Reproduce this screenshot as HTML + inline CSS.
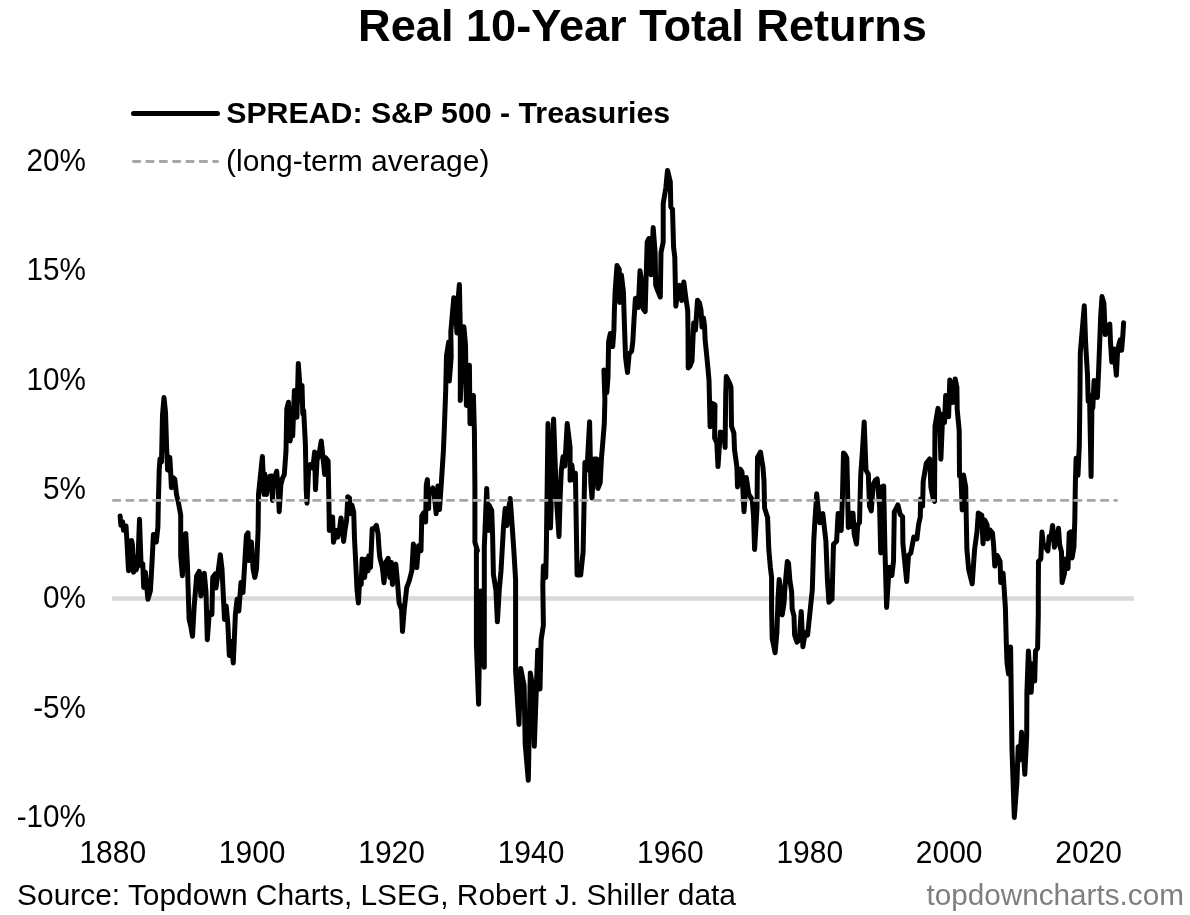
<!DOCTYPE html>
<html><head><meta charset="utf-8"><style>
html,body{margin:0;padding:0;background:#fff;}
svg{display:block;filter:grayscale(1);}
text{font-family:"Liberation Sans",Arial,sans-serif;fill:#000;font-size:30px;}
</style></head><body>
<svg width="1190" height="915" viewBox="0 0 1190 915">
<rect width="1190" height="915" fill="#fff"/>
<text x="642.5" y="41" style="font-size:45px;font-weight:bold" text-anchor="middle" textLength="568.9" lengthAdjust="spacingAndGlyphs">Real 10-Year Total Returns</text>
<line x1="133.5" y1="113.5" x2="217.5" y2="113.5" stroke="#000" stroke-width="5" stroke-linecap="round"/>
<text x="226.2" y="122.8" style="font-weight:bold" textLength="443.9" lengthAdjust="spacingAndGlyphs">SPREAD: S&amp;P 500 - Treasuries</text>
<line x1="133.4" y1="161.5" x2="217.5" y2="161.5" stroke="#a6a6a6" stroke-width="2.8" stroke-linecap="round" stroke-dasharray="6.5 6.85"/>
<text x="226" y="171" font-size="30">(long-term average)</text>
<text x="86" y="171.1" text-anchor="end" transform="matrix(0.99 0 0 1.07 0.860 -11.977)">20%</text><text x="86" y="280.4" text-anchor="end" transform="matrix(0.99 0 0 1.07 0.860 -19.628)">15%</text><text x="86" y="389.7" text-anchor="end" transform="matrix(0.99 0 0 1.07 0.860 -27.279)">10%</text><text x="86" y="499.0" text-anchor="end" transform="matrix(0.99 0 0 1.07 0.860 -34.930)">5%</text><text x="86" y="608.3" text-anchor="end" transform="matrix(0.99 0 0 1.07 0.860 -42.581)">0%</text><text x="86" y="717.6" text-anchor="end" transform="matrix(0.99 0 0 1.07 0.860 -50.232)">-5%</text><text x="86" y="826.9" text-anchor="end" transform="matrix(0.99 0 0 1.07 0.860 -57.883)">-10%</text>
<text x="112.8" y="863" text-anchor="middle" transform="matrix(1 0 0 1.04 0 -34.520)">1880</text><text x="252.2" y="863" text-anchor="middle" transform="matrix(1 0 0 1.04 0 -34.520)">1900</text><text x="391.6" y="863" text-anchor="middle" transform="matrix(1 0 0 1.04 0 -34.520)">1920</text><text x="531.0" y="863" text-anchor="middle" transform="matrix(1 0 0 1.04 0 -34.520)">1940</text><text x="670.4" y="863" text-anchor="middle" transform="matrix(1 0 0 1.04 0 -34.520)">1960</text><text x="809.8" y="863" text-anchor="middle" transform="matrix(1 0 0 1.04 0 -34.520)">1980</text><text x="949.2" y="863" text-anchor="middle" transform="matrix(1 0 0 1.04 0 -34.520)">2000</text><text x="1088.6" y="863" text-anchor="middle" transform="matrix(1 0 0 1.04 0 -34.520)">2020</text>
<text x="17.1" y="904.7" textLength="718.9" lengthAdjust="spacingAndGlyphs">Source: Topdown Charts, LSEG, Robert J. Shiller data</text>
<text x="926.4" y="904.7" textLength="257.5" lengthAdjust="spacingAndGlyphs" style="fill:#7f7f7f">topdowncharts.com</text>
<line x1="112" y1="598.5" x2="1134" y2="598.5" stroke="#d9d9d9" stroke-width="4.5"/>
<path d="M120.1,516.0 L120.9,525.2 L122.6,521.8 L123.5,530.3 L126.0,526.0 L126.8,538.7 L128.5,570.7 L130.0,568.0 L131.5,540.4 L132.5,545.0 L133.6,572.3 L135.3,557.2 L136.1,570.0 L137.8,565.0 L139.5,519.3 L141.1,565.6 L142.8,564.0 L143.7,587.5 L145.4,572.3 L147.9,599.3 L150.4,590.9 L152.0,563.0 L153.4,534.5 L154.6,534.5 L156.3,542.0 L157.9,527.0 L158.3,505.0 L159.2,470.0 L160.0,459.0 L161.5,462.0 L162.5,415.0 L164.0,397.5 L165.5,412.0 L166.7,450.0 L167.6,470.0 L169.8,457.4 L170.6,470.9 L171.4,487.7 L173.1,477.6 L174.8,479.3 L176.5,494.5 L178.5,503.0 L180.7,515.1 L180.7,555.5 L182.4,575.7 L184.1,535.3 L185.8,533.6 L187.4,563.9 L189.1,619.5 L190.8,626.0 L192.5,636.3 L194.2,606.0 L196.7,575.7 L199.2,571.5 L200.9,595.9 L202.6,584.0 L204.3,573.2 L206.0,592.0 L207.3,639.7 L209.3,612.7 L211.9,614.4 L212.7,577.4 L215.2,574.0 L216.0,588.0 L217.7,575.0 L220.3,554.7 L222.0,569.0 L224.5,619.5 L226.2,606.0 L227.8,622.8 L229.3,655.5 L231.2,641.4 L233.3,663.0 L235.4,614.4 L237.1,599.3 L238.8,611.0 L241.0,582.4 L243.0,592.5 L244.7,563.9 L246.4,535.3 L248.0,532.8 L248.9,560.6 L251.4,542.0 L253.1,569.0 L254.8,577.4 L256.5,569.0 L258.1,530.3 L258.5,494.5 L262.4,456.6 L264.0,494.5 L264.9,474.3 L266.6,494.5 L269.1,477.6 L270.0,476.3 L271.6,476.0 L272.5,500.4 L273.4,481.3 L274.1,479.3 L276.7,471.2 L278.3,490.0 L279.2,511.7 L280.9,484.4 L282.6,478.0 L284.3,474.6 L286.0,451.0 L286.8,408.9 L288.5,402.2 L290.2,440.9 L291.9,417.3 L292.7,435.9 L294.4,390.4 L295.5,395.0 L296.9,417.3 L298.3,363.5 L299.5,380.0 L300.3,400.5 L302.0,385.4 L302.8,414.0 L303.7,410.6 L305.4,444.3 L306.2,489.7 L307.0,503.2 L308.7,467.8 L310.4,464.5 L312.9,468.0 L314.6,451.9 L315.5,489.7 L317.1,459.4 L318.8,456.1 L321.3,440.9 L323.0,458.0 L324.7,474.6 L325.6,457.7 L328.1,461.1 L328.9,501.5 L329.3,530.5 L331.0,528.0 L332.6,517.0 L333.5,542.3 L336.0,530.5 L337.7,537.2 L339.4,530.0 L341.0,517.9 L342.7,530.0 L343.6,541.4 L345.0,530.0 L346.6,520.4 L347.8,496.8 L349.5,498.0 L350.3,513.7 L352.0,505.3 L353.7,512.0 L354.5,538.9 L355.4,555.8 L357.0,589.4 L358.4,602.9 L359.6,581.0 L361.2,584.4 L362.1,559.1 L364.6,577.6 L366.3,559.1 L368.0,570.9 L368.8,555.8 L370.5,567.5 L372.2,528.8 L373.9,528.8 L376.4,525.5 L378.1,534.0 L378.9,547.3 L379.8,557.4 L382.3,567.0 L384.0,582.7 L385.7,562.5 L388.2,558.3 L389.9,577.6 L391.5,562.5 L392.4,584.4 L394.1,565.9 L395.8,564.2 L397.4,581.0 L399.1,602.9 L401.6,609.6 L402.5,631.5 L404.2,609.6 L406.7,587.7 L409.2,581.0 L411.8,570.9 L413.4,544.0 L415.1,567.0 L416.8,567.5 L418.5,545.7 L421.0,550.7 L421.8,516.0 L423.5,513.0 L425.6,522.0 L426.3,485.0 L427.4,479.6 L428.6,508.6 L429.1,489.7 L430.5,490.0 L432.7,488.0 L434.5,497.0 L436.2,513.7 L437.9,486.0 L439.5,509.5 L441.2,485.0 L443.4,451.0 L444.2,432.0 L445.7,390.4 L446.5,356.0 L448.7,342.0 L449.3,381.0 L451.2,357.0 L450.8,332.0 L453.8,297.7 L455.5,299.0 L456.9,333.0 L458.0,300.0 L459.4,284.5 L460.3,330.0 L460.3,400.5 L462.0,360.0 L463.9,326.7 L465.5,345.0 L466.4,405.5 L468.0,380.0 L469.4,365.2 L470.0,423.7 L473.4,395.4 L474.4,432.0 L474.9,486.7 L474.9,542.3 L477.4,550.7 L476.4,549.0 L476.4,644.0 L478.6,704.2 L480.3,591.0 L482.5,640.0 L484.3,667.3 L484.3,547.3 L486.7,488.4 L488.4,530.5 L489.2,505.3 L491.7,510.3 L492.6,535.6 L493.4,574.3 L495.9,590.0 L497.4,621.8 L499.3,589.4 L501.0,570.9 L503.5,527.1 L505.2,508.6 L506.9,525.5 L508.5,510.0 L510.2,498.5 L511.9,522.1 L513.9,551.4 L515.6,579.8 L515.6,670.7 L519.0,724.4 L520.7,668.4 L524.1,685.5 L525.2,744.0 L528.3,780.2 L530.3,673.0 L533.2,690.0 L534.3,746.3 L537.7,650.2 L540.0,688.9 L541.1,640.0 L543.4,625.2 L542.8,585.5 L543.4,566.1 L545.7,577.5 L546.3,551.4 L548.0,423.6 L550.5,528.0 L553.6,418.9 L556.5,500.0 L559.0,536.5 L560.2,495.6 L561.3,470.8 L563.0,456.7 L564.8,466.1 L567.2,423.6 L570.1,447.2 L570.1,480.3 L571.9,464.9 L573.5,480.0 L575.4,473.2 L577.1,575.0 L580.7,575.0 L583.1,552.0 L584.9,462.6 L587.0,470.0 L589.6,421.8 L590.8,482.6 L592.0,498.0 L594.3,459.0 L596.7,459.0 L597.9,488.5 L600.2,482.6 L601.4,459.0 L602.6,444.9 L604.3,423.6 L604.9,400.0 L603.9,370.1 L605.3,372.0 L606.8,392.6 L608.0,377.2 L608.6,341.8 L610.3,333.5 L612.7,346.5 L613.9,330.0 L614.4,310.0 L615.1,291.8 L617.0,265.6 L619.2,269.2 L619.7,302.4 L621.4,275.0 L623.4,291.5 L624.6,330.0 L625.6,357.8 L627.5,372.5 L629.2,353.6 L631.6,351.3 L632.8,341.8 L634.0,320.0 L635.4,298.4 L637.0,298.0 L638.3,307.5 L640.0,270.8 L642.0,283.9 L643.3,308.9 L645.2,311.5 L645.9,285.2 L647.2,242.0 L649.0,238.5 L651.1,274.8 L653.2,227.6 L655.1,252.5 L655.7,285.2 L657.7,290.5 L660.3,297.0 L661.0,252.5 L663.2,242.0 L663.2,203.7 L665.9,187.3 L667.5,170.4 L670.3,181.9 L670.8,207.0 L672.5,209.2 L673.6,247.4 L674.8,257.3 L675.8,306.2 L677.4,294.4 L679.7,285.3 L681.7,300.4 L683.8,282.0 L685.9,298.4 L687.7,310.5 L688.0,330.0 L688.2,368.0 L690.0,366.0 L692.0,361.0 L693.7,323.0 L695.5,330.0 L697.5,300.3 L699.5,303.0 L701.0,310.0 L702.0,327.0 L703.5,318.0 L704.6,326.5 L705.1,339.6 L707.3,361.5 L709.0,380.0 L709.5,400.8 L710.1,426.8 L711.9,403.2 L714.2,404.4 L715.0,404.9 L714.6,437.9 L716.8,442.6 L718.0,466.5 L720.3,432.0 L723.9,433.2 L725.1,447.4 L725.7,395.4 L726.3,376.5 L729.8,383.6 L731.0,387.2 L731.5,426.1 L733.9,433.2 L734.5,449.7 L736.9,466.8 L737.5,486.9 L740.4,469.2 L742.0,472.0 L744.0,511.7 L746.3,477.4 L748.7,494.0 L752.2,499.9 L753.5,515.0 L754.6,549.5 L757.0,508.1 L757.5,457.4 L760.5,452.1 L762.9,466.8 L764.0,481.0 L764.6,508.1 L767.6,517.6 L768.8,549.5 L770.4,567.7 L771.6,577.2 L771.6,609.0 L772.2,638.5 L775.1,652.7 L776.9,632.6 L778.1,597.2 L779.2,579.5 L780.5,590.0 L782.2,614.9 L784.0,603.1 L785.1,585.4 L787.3,561.5 L788.5,563.0 L789.9,580.7 L791.6,591.3 L792.2,609.0 L794.0,616.1 L794.6,635.0 L797.0,642.1 L799.3,639.7 L801.2,611.4 L802.9,646.8 L805.2,632.6 L807.6,635.0 L810.0,612.0 L812.3,590.0 L813.2,560.0 L813.8,540.0 L814.6,526.0 L816.7,493.8 L818.8,515.0 L819.8,522.8 L822.8,513.6 L825.9,541.2 L827.4,579.4 L828.9,602.3 L832.0,599.3 L833.5,544.2 L836.6,541.2 L838.1,513.6 L841.2,530.5 L842.5,495.0 L843.5,453.0 L845.3,455.0 L846.8,458.0 L847.4,481.3 L848.3,527.4 L849.5,527.0 L851.2,513.2 L853.0,513.2 L854.2,534.5 L856.5,544.0 L857.7,525.0 L859.5,522.6 L860.7,475.4 L862.4,451.8 L864.2,422.0 L866.0,470.0 L868.3,474.2 L869.5,506.1 L871.3,510.8 L873.1,484.9 L875.4,480.1 L877.2,479.0 L879.6,506.0 L880.7,553.0 L881.3,487.2 L883.7,486.0 L884.9,548.0 L886.6,607.4 L888.4,579.0 L889.6,567.2 L891.9,575.5 L893.5,561.3 L894.3,512.0 L897.9,504.9 L900.2,514.4 L902.6,516.7 L902.9,543.6 L906.7,581.4 L908.5,555.4 L910.8,553.1 L913.8,537.0 L915.6,538.0 L916.9,538.9 L918.5,525.0 L920.3,516.7 L920.6,499.0 L922.6,506.1 L923.2,481.3 L926.2,463.6 L929.7,458.9 L930.9,487.2 L933.3,499.0 L934.5,501.4 L935.0,426.1 L938.0,408.4 L939.5,415.0 L940.9,459.2 L942.7,414.3 L944.5,422.6 L945.7,395.4 L948.6,416.7 L949.8,380.1 L952.7,402.5 L955.1,378.9 L956.9,387.2 L957.2,409.6 L959.2,430.8 L959.5,476.0 L961.0,476.0 L962.2,510.0 L963.5,475.0 L965.7,487.0 L966.3,520.0 L966.9,549.5 L968.7,569.6 L972.2,583.8 L974.6,549.5 L977.0,531.8 L978.3,513.0 L981.8,515.3 L983.0,543.7 L984.8,520.1 L987.1,524.8 L987.7,539.0 L990.0,530.0 L992.4,533.1 L993.6,544.9 L994.8,566.1 L997.2,555.5 L1000.1,561.4 L1000.7,582.6 L1003.1,573.2 L1004.2,589.7 L1005.4,608.0 L1006.3,642.6 L1007.0,662.5 L1008.5,673.9 L1010.6,647.0 L1011.3,699.4 L1012.0,750.0 L1014.3,817.5 L1016.9,782.1 L1018.2,746.7 L1020.2,759.8 L1021.5,732.3 L1023.0,745.0 L1024.8,774.3 L1026.7,736.2 L1026.9,692.3 L1028.4,651.1 L1031.2,692.3 L1032.6,663.9 L1034.7,681.0 L1035.5,651.1 L1037.6,648.3 L1038.3,614.2 L1038.3,590.0 L1038.5,561.4 L1040.8,559.0 L1042.0,531.9 L1043.2,543.7 L1045.6,547.2 L1047.9,550.8 L1049.1,536.6 L1050.8,539.0 L1052.6,525.4 L1054.4,547.2 L1056.8,539.0 L1058.5,528.3 L1059.7,544.9 L1061.5,551.9 L1062.1,582.6 L1064.5,573.2 L1065.6,559.0 L1068.0,568.5 L1069.2,533.1 L1070.9,531.9 L1072.1,557.9 L1073.9,547.2 L1074.8,520.0 L1075.4,481.8 L1076.1,458.2 L1078.0,475.2 L1079.3,445.1 L1080.0,390.0 L1080.3,353.0 L1084.3,305.7 L1085.6,342.5 L1087.5,375.2 L1088.2,401.5 L1089.5,395.0 L1091.1,476.6 L1092.0,400.0 L1092.8,408.0 L1094.1,380.5 L1097.4,397.5 L1098.7,368.7 L1099.3,353.0 L1100.7,316.2 L1102.0,296.6 L1103.9,303.1 L1104.6,320.2 L1105.2,334.6 L1107.2,326.7 L1109.8,324.1 L1110.5,342.5 L1111.8,362.1 L1113.8,349.0 L1116.4,375.2 L1117.7,349.0 L1120.3,339.8 L1121.6,350.3 L1123.0,333.3 L1123.6,322.8" fill="none" stroke="#000" stroke-width="5" stroke-linejoin="round" stroke-linecap="round"/>
<line x1="113.4" y1="500.4" x2="1116.6" y2="500.4" stroke="#a6a6a6" stroke-width="2.8" stroke-linecap="round" stroke-dasharray="6.5 6.85"/>
</svg>
</body></html>
